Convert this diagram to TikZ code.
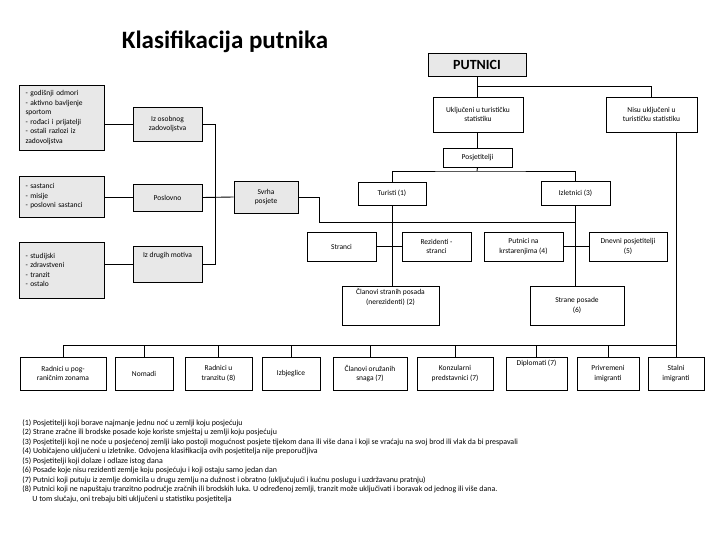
\documentclass[tikz,border=0pt]{standalone}
\usepackage{fontspec}
\setmainfont{Carlito}
\definecolor{boxgray}{RGB}{232,232,232}
\begin{document}
\begin{tikzpicture}[x=1pt,y=-1pt,line width=0.9pt,
  box/.style={draw=black,fill=white,inner sep=1pt,align=center,font=\fontsize{7.5}{9.5}\selectfont},
  gbox/.style={box,fill=boxgray},
  listbox/.style={draw=black,fill=boxgray,inner xsep=6.5pt,inner ysep=0pt,text width=72pt,align=left,font=\fontsize{7.5}{9.5}\selectfont,minimum width=85pt},
  conn/.style={draw=black,line width=0.9pt},
  notes/.style={anchor=north west,inner sep=0pt,align=left,font=\fontsize{7.9}{9.5}\selectfont}]
\useasboundingbox (0,0) rectangle (720,540);

% title
\node[inner sep=0pt,font=\fontsize{25}{30}\selectfont\bfseries] (title) at (225,42) {Klasifikacija putnika};

% top hierarchy
\node[gbox,minimum width=98pt,minimum height=23pt,font=\fontsize{14}{16}\selectfont\bfseries] (putnici) at (477,65) {PUTNICI};
\node[box,minimum width=90pt,minimum height=35pt] (uklj) at (478,114.5) {Uključeni u turističku\\statistiku};
\node[box,minimum width=91pt,minimum height=35pt] (nisu) at (651.5,114.5) {Nisu uključeni u\\turističku statistiku};
\node[box,minimum width=69pt,minimum height=19pt] (posj) at (477.5,157.5) {Posjetitelji};
\node[box,minimum width=68pt,minimum height=23pt] (turisti) at (392,193.5) {Turisti (1)};
\node[box,minimum width=69pt,minimum height=24pt] (izlet) at (575.5,193) {Izletnici (3)};
\node[box,minimum width=69pt,minimum height=29pt] (stranci) at (341.5,246.5) {Stranci};
\node[box,minimum width=69pt,minimum height=29pt] (rezid) at (436.5,246.5) {Rezidenti -\\stranci};
\node[box,minimum width=97pt,minimum height=39pt] (clanposada) at (390.5,305.5) {Članovi stranih posada\\(nerezidenti) (2)\\[9pt]};
\node[box,minimum width=79pt,minimum height=29pt] (krstar) at (523.5,246.5) {Putnici na\\krstarenjima (4)};
\node[box,minimum width=78pt,minimum height=29pt] (dnevni) at (628,246.5) {Dnevni posjetitelji\\(5)};
\node[box,minimum width=94pt,minimum height=39pt] (straneposade) at (577,305.5) {Strane posade\\(6)};

% left side
\node[listbox,minimum height=65pt] (lb1) at (61.5,117.5) {- godišnji odmori\\- aktivno bavljenje\\sportom\\- rođaci i prijatelji\\- ostali razlozi iz\\zadovoljstva};
\node[gbox,minimum width=69pt,minimum height=34pt] (izosob) at (167.5,124) {Iz osobnog\\zadovoljstva};
\node[listbox,minimum height=41pt] (lb2) at (61.5,196.5) {- sastanci\\- misije\\- poslovni sastanci};
\node[gbox,minimum width=69pt,minimum height=27pt] (poslovno) at (167.5,197.5) {Poslovno};
\node[listbox,minimum height=56pt] (lb3) at (61.5,270) {- studijski\\- zdravstveni\\- tranzit\\- ostalo};
\node[gbox,minimum width=69pt,minimum height=36pt] (izdrugih) at (167.5,264) {\raisebox{18pt}{Iz drugih motiva}};
\node[gbox,minimum width=64pt,minimum height=32pt] (svrha) at (266,197) {Svrha\\posjete};

% bottom row
\node[box,minimum width=86pt,minimum height=33pt] (b1) at (63,373.5) {Radnici u pog-\\raničnim zonama};
\node[box,minimum width=58pt,minimum height=33pt] (b2) at (144,373.5) {Nomadi};
\node[box,minimum width=67pt,minimum height=33pt] (b3) at (218.5,373.5) {Radnici u\\tranzitu (8)};
\node[box,minimum width=58pt,minimum height=33pt] (b4) at (291,373.5) {Izbjeglice};
\node[box,minimum width=74pt,minimum height=33pt] (b5) at (370,373.5) {Članovi oružanih\\snaga (7)};
\node[box,minimum width=76pt,minimum height=33pt] (b6) at (455,373.5) {Konzularni\\predstavnici (7)};
\node[box,minimum width=61pt,minimum height=33pt] (b7) at (536.5,373.5) {\raisebox{22pt}{Diplomati (7)}};
\node[box,minimum width=62pt,minimum height=33pt] (b8) at (608,373.5) {Privremeni\\imigranti};
\node[box,minimum width=56pt,minimum height=33pt] (b9) at (676,373.5) {Stalni\\imigranti};

% helper coordinates
\coordinate (j1) at (477,86);
\coordinate (j2) at (477,171);
\coordinate (vx) at (215,0);
\coordinate (j3) at (319,222);
\coordinate (bus) at (0,345);

% connectors top
\draw[conn] (putnici.south) -- (putnici.south |- uklj.north);
\draw[conn] (j1) -| (nisu.north);
\draw[conn] (uklj.south -| posj.north) -- (posj.north);
\draw[conn] (posj.south) -- (j2);
\draw[conn] (turisti.north) |- (j2) -| (izlet.north);
\draw[conn] (turisti.south) -- (turisti.south |- clanposada.north);
\draw[conn] (stranci.east) -- (rezid.west);
\draw[conn] (izlet.south) -- (izlet.south |- straneposade.north);
\draw[conn] (krstar.east) -- (dnevni.west);

% connectors left
\draw[conn] (izosob.west -| lb1.east) -- (izosob.west);
\draw[conn] (lb2.east |- poslovno.west) -- (poslovno.west);
\draw[conn] (izdrugih.west -| lb3.east) -- (izdrugih.west);
\draw[conn] (izosob.east) -- (izosob.east -| vx) -- (izdrugih.east -| vx) -- (izdrugih.east);
\draw[conn] (poslovno.east) -- (svrha.west);
\draw[conn] (svrha.east) -| (j3) -- (j3 -| izlet.south);

% bottom bus
\draw[conn] (nisu.south -| b9.north) -- (b9.north);
\draw[conn] (b1.north |- bus) -- (b9.north |- bus);
\foreach \b in {b1,b2,b3,b4,b5,b6,b7,b8}{
  \draw[conn] (\b.north) -- (\b.north |- bus);
}

% footnotes
\node[notes] (fn) at (22,419) {(1) Posjetitelji koji borave najmanje jednu noć u zemlji koju posjećuju\\
(2) Strane zračne ili brodske posade koje koriste smještaj u zemlji koju posjećuju\\
(3) Posjetitelji koji ne noće u posjećenoj zemlji iako postoji mogućnost posjete tijekom dana ili više dana i koji se vraćaju na svoj brod ili vlak da bi prespavali\\
(4) Uobičajeno uključeni u izletnike. Odvojena klasifikacija ovih posjetitelja nije preporučljiva\\
(5) Posjetitelji koji dolaze i odlaze istog dana\\
(6) Posade koje nisu rezidenti zemlje koju posjećuju i koji ostaju samo jedan dan\\
(7) Putnici koji putuju iz zemlje domicila u drugu zemlju na dužnost i obratno (uključujući i kućnu poslugu i uzdržavanu pratnju)\\
(8) Putnici koji ne napuštaju tranzitno područje zračnih ili brodskih luka. U određenoj zemlji, tranzit može uključivati i boravak od jednog ili više dana.\\
\hspace*{10pt}U tom slučaju, oni trebaju biti uključeni u statistiku posjetitelja};
\end{tikzpicture}
\end{document}
